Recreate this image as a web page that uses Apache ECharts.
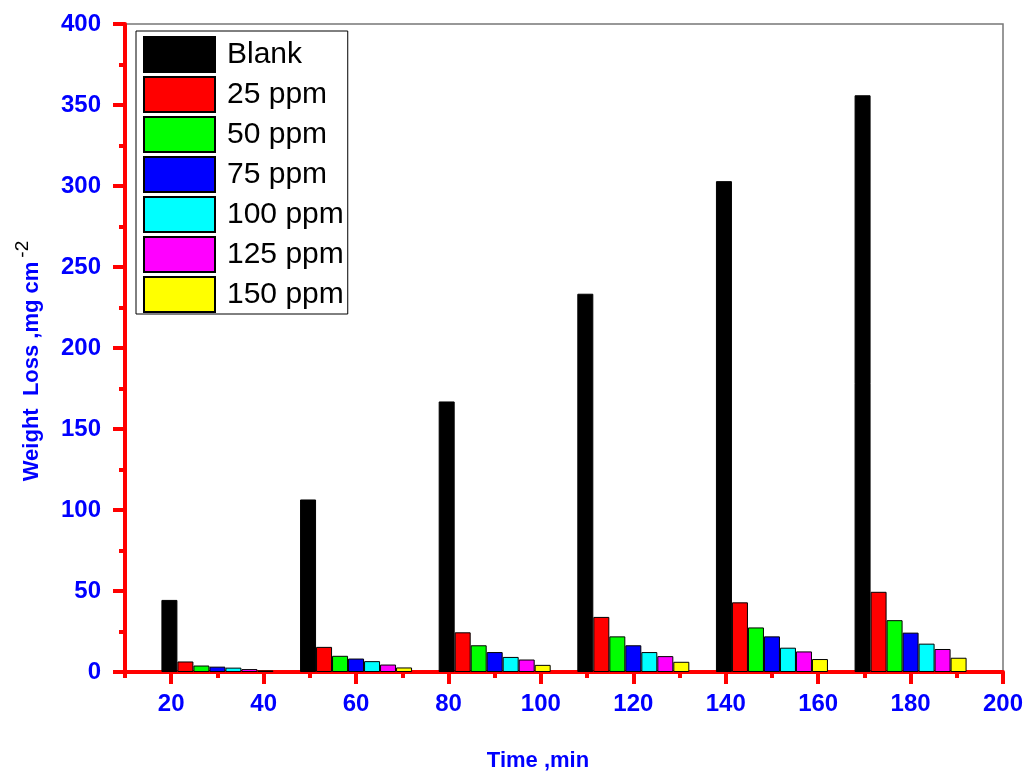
<!DOCTYPE html>
<html>
<head>
<meta charset="utf-8">
<script src="https://cdn.jsdelivr.net/npm/echarts@6/dist/echarts.min.js"></script>
<style>
  html, body { margin: 0; padding: 0; background: #fff; }
  #chart { width: 1025px; height: 771px; }
</style>
</head>
<body>
<div id="chart"></div>
<script>
  // time of each bar group, min
  var times = [30, 60, 90, 120, 150, 180];
  // weight loss, mg cm-2
  var blank  = [44.5, 106.5, 167, 233.5, 303, 356];
  var ppm25  = [6.5, 15.5, 24.5, 34, 43, 49.5];
  var ppm50  = [4, 10, 16.5, 22, 27.5, 32];
  var ppm75  = [3.3, 8.3, 12.3, 16.5, 22, 24.3];
  var ppm100 = [2.7, 6.7, 9.3, 12.3, 15, 17.5];
  var ppm125 = [1.8, 4.6, 7.7, 9.8, 12.7, 14.2];
  var ppm150 = [1.0, 2.8, 4.4, 6.3, 8, 8.8];

  var seriesNames = ['Blank', '25 ppm', '50 ppm', '75 ppm', '100 ppm', '125 ppm', '150 ppm'];
  var seriesColors = ['#000000', '#ff0000', '#00ff00', '#0000ff', '#00ffff', '#ff00ff', '#ffff00'];
  var seriesValues = [blank, ppm25, ppm50, ppm75, ppm100, ppm125, ppm150];

  var xMajorTicks = [20, 40, 60, 80, 100, 120, 140, 160, 180, 200];
  var xMinorTicks = [10, 30, 50, 70, 90, 110, 130, 150, 170, 190];

  var font = 'Arial, "Liberation Sans", sans-serif';
  var red = '#ff0000';
  var blue = '#0000ff';

  var myChart = echarts.init(document.getElementById('chart'));

  var series = seriesNames.map(function (name, k) {
    return {
      name: name,
      type: 'bar',
      xAxisIndex: 0,
      barWidth: 16,
      barGap: '0%',
      itemStyle: { color: seriesColors[k], borderColor: '#000', borderWidth: 1 },
      data: times.map(function (t, i) { return [t, seriesValues[k][i]]; })
    };
  });

  myChart.setOption({
    animation: false,
    grid: {
      left: 125, top: 24, right: 22, bottom: 99,
      outerBoundsMode: 'none',
      containLabel: false,
      show: true, borderColor: '#777', borderWidth: 1.5
    },
    legend: {
      orient: 'vertical',
      left: 136, top: 31,
      padding: [5, 4, 1, 7],
      borderColor: '#000', borderWidth: 1,
      icon: 'rect',
      itemWidth: 71, itemHeight: 35, itemGap: 3,
      textStyle: { fontFamily: font, fontSize: 30, color: '#000', lineHeight: 35, padding: [0, 0, 0, 7] },
      data: seriesNames
    },
    xAxis: [
      {
        type: 'value',
        position: 'bottom',
        min: 10, max: 200,
        splitLine: { show: false },
        axisLine: { onZero: false, lineStyle: { color: red, width: 4 } },
        axisTick: { customValues: xMajorTicks, length: 12, lineStyle: { color: red, width: 4 } },
        axisLabel: {
          customValues: xMajorTicks, margin: 20,
          color: blue, fontFamily: font, fontWeight: 'bold', fontSize: 24
        },
        name: 'Time ,min',
        nameLocation: 'middle',
        nameGap: 78,
        nameTextStyle: { color: blue, fontFamily: font, fontWeight: 'bold', fontSize: 22, padding: [0, 52, 0, 0] }
      },
      {
        type: 'value',
        position: 'bottom',
        min: 10, max: 200,
        splitLine: { show: false },
        axisLine: { show: false, onZero: false },
        axisTick: { customValues: xMinorTicks, length: 6, lineStyle: { color: red, width: 4 } },
        axisLabel: { show: false }
      }
    ],
    yAxis: {
      type: 'value',
      min: 0, max: 400, interval: 50,
      splitLine: { show: false },
      axisLine: { show: true, lineStyle: { color: red, width: 4 } },
      axisTick: { length: 12, lineStyle: { color: red, width: 4 } },
      minorTick: { show: true, splitNumber: 2, length: 6, lineStyle: { color: red, width: 4 } },
      axisLabel: { margin: 24, color: blue, fontFamily: font, fontWeight: 'bold', fontSize: 24 },
      name: '{main|Weight  Loss ,mg cm}{sup|-2}',
      nameLocation: 'middle',
      nameGap: 75,
      nameTextStyle: {
        rich: {
          main: { color: blue, fontFamily: font, fontWeight: 'bold', fontSize: 22 },
          sup: { color: '#000', fontFamily: font, fontSize: 19, padding: [0, 26, 18, 4] }
        }
      }
    },
    series: series
  });
</script>
</body>
</html>
